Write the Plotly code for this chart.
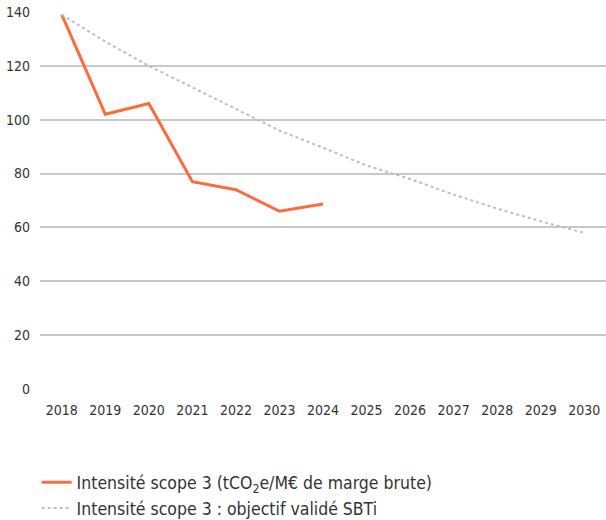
import plotly.graph_objects as go

years = list(range(2018, 2031))
actual_years = [2018, 2019, 2020, 2021, 2022, 2023, 2024]
actual_intensity = [139, 102, 106, 77, 74, 66, 68.7]
target_years = years
target_intensity = [139, 129, 120, 112, 103.7, 96, 89.6, 83, 78, 72.2, 67, 62.3, 58]
y_ticks = [0, 20, 40, 60, 80, 100, 120, 140]

FONT = "DejaVu Sans Condensed, sans-serif"
TEXT = "#333333"

fig = go.Figure()
fig.add_trace(go.Scatter(
    x=actual_years, y=actual_intensity, mode="lines",
    name="Intensité scope 3 (tCO<sub>2</sub>e/M€ de marge brute)",
    line=dict(color="#FF6A3D", width=3),
))
fig.add_trace(go.Scatter(
    x=target_years, y=target_intensity, mode="lines",
    name="Intensité scope 3 : objectif validé SBTi",
    line=dict(color="#B9BEC8", width=2, dash="dot"),
))

fig.update_layout(
    width=606, height=520,
    margin=dict(l=40, r=0, t=12, b=131, autoexpand=False),
    paper_bgcolor="white", plot_bgcolor="white",
    font=dict(family=FONT, size=14, color=TEXT),
    showlegend=True,
    legend=dict(
        orientation="v", x=-0.006, xanchor="left", y=-0.2, yanchor="top",
        xref="paper", yref="paper",
        font=dict(family=FONT, size=17.5, color=TEXT),
        tracegroupgap=0, itemwidth=30,
    ),
    xaxis=dict(
        range=[2017.5, 2030.5], tickmode="array", tickvals=years,
        ticktext=[str(y) for y in years], showgrid=False, zeroline=False,
        showline=False, ticks="", ticklabelstandoff=11,
        tickfont=dict(family=FONT, size=14, color=TEXT),
    ),
    yaxis=dict(
        range=[0, 140], tickmode="array", tickvals=y_ticks,
        showgrid=True, gridcolor="#C8C8C8", gridwidth=1.5, zeroline=False,
        showline=False, ticks="", ticklabelstandoff=9,
        tickfont=dict(family=FONT, size=14, color=TEXT),
    ),
)

fig.write_html("out.html")
